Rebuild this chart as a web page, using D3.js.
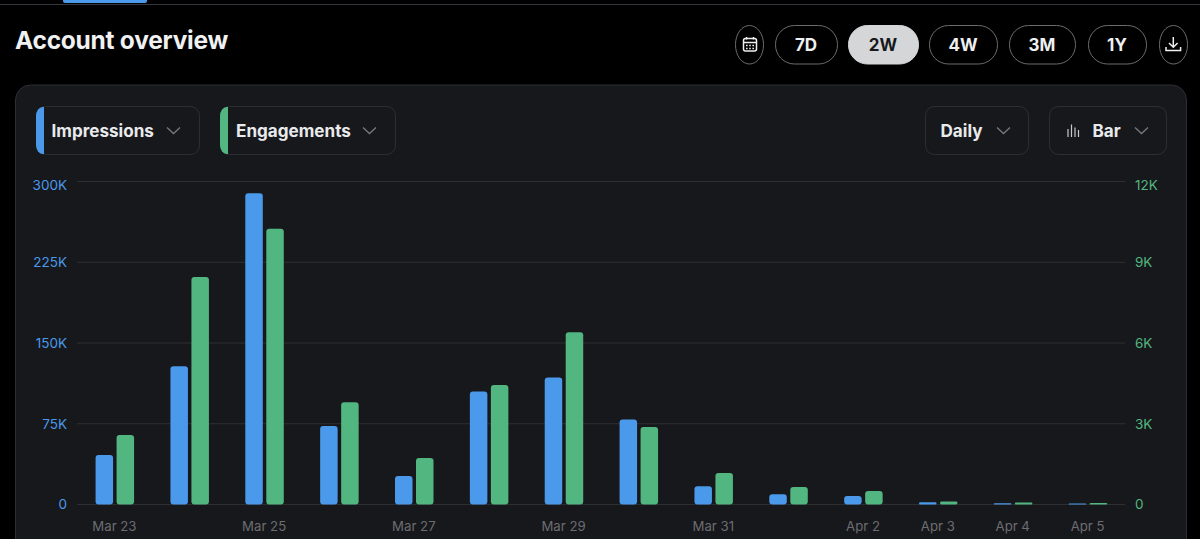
<!DOCTYPE html>
<html><head><meta charset="utf-8">
<script src="https://cdn.jsdelivr.net/npm/d3@7"></script>
<style>
html,body{margin:0;padding:0;background:#000;overflow:hidden}
svg{display:block}
text{font-family:Inter,"Noto Sans",sans-serif}
</style></head><body>
<svg id="c" width="1200" height="539"></svg>
<script>
const days=["Mar 23","Mar 24","Mar 25","Mar 26","Mar 27","Mar 28","Mar 29","Mar 30","Mar 31","Apr 1","Apr 2","Apr 3","Apr 4","Apr 5"];
const shownDays=["Mar 23","Mar 25","Mar 27","Mar 29","Mar 31","Apr 2","Apr 3","Apr 4","Apr 5"];
const impressions=[46000,128500,289000,73000,26500,105000,118000,79000,17000,9500,8000,2000,1200,1000];
const engagements=[2580,8450,10240,3800,1730,4440,6400,2880,1170,650,500,110,70,60];
const impTicks=[0,75000,150000,225000,300000];
const engTicks=[0,3000,6000,9000,12000];
const ranges=["7D","2W","4W","3M","1Y"];
const BLUE="#4a99ea",GREEN="#52b680";

const svg=d3.select("#c");
// top nav strip
svg.append("rect").attr("x",0).attr("y",4).attr("width",1200).attr("height",1).attr("fill","#33363a");
svg.append("rect").attr("x",63).attr("y",-4).attr("width",84).attr("height",7).attr("rx",2).attr("fill",BLUE);
svg.append("text").attr("x",15).attr("y",48.5).attr("fill","#f0f1f2").attr("font-size",24.5).attr("font-weight",700).attr("letter-spacing",-0.25).text("Account overview");

// range buttons
const btnX=[[775,63],[848,71],[929,69],[1009,67],[1088,59]];
function pill(x,w,active){
  return svg.append("rect").attr("x",x+.5).attr("y",25.5).attr("width",w-1).attr("height",38.5).attr("rx",19)
    .attr("fill",active?"#d5d6d8":"#000").attr("stroke",active?"#d5d6d8":"#6a6c70").attr("stroke-width",1);
}
ranges.forEach((r,i)=>{
  const [x,w]=btnX[i],a=r==="2W";
  pill(x,w,a);
  svg.append("text").attr("x",x+w/2-.5).attr("y",51).attr("text-anchor","middle").attr("font-size",17).attr("font-weight",700)
    .attr("fill",a?"#17181c":"#eff0f1").text(r);
});
pill(735,29,false); pill(1159,29,false);
// calendar icon
const cal=svg.append("g").attr("fill","none").attr("stroke","#eff0f1").attr("stroke-width",1.5);
cal.append("rect").attr("x",743.5).attr("y",38.5).attr("width",13).attr("height",12.5).attr("rx",2);
cal.append("path").attr("d","M744 42.5H756M746.5 37V39.5M753.5 37V39.5");
cal.append("path").attr("d","M746 45.5h8M746 48.5h8").attr("stroke-dasharray","1.6 1.6");
// download icon
svg.append("path").attr("fill","none").attr("stroke","#eff0f1").attr("stroke-width",1.5)
  .attr("d","M1173.3 37V47M1169 43l4.3 4.3 4.3-4.3M1166 47v3.6h14.6V47");

// panel
svg.append("rect").attr("x",15.5).attr("y",85).attr("width",1171).attr("height",500).attr("rx",15)
  .attr("fill","#17181c").attr("stroke","#2e2f33");

function dropdown(x,w,label,tx,chev,color){
  svg.append("rect").attr("x",x+.5).attr("y",106.5).attr("width",w-1).attr("height",48).attr("rx",9)
    .attr("fill","none").attr("stroke","#2d2e33");
  if(color){
    svg.append("path").attr("fill",color)
      .attr("d",`M${x+8} 107v47h-1.5a6.5 9 0 0 1-6.5-9v-29a6.5 9 0 0 1 6.5-9z`);
  }
  svg.append("text").attr("x",tx).attr("y",136.5).attr("font-size",17.1).attr("font-weight",700).attr("fill","#e9eaec").text(label);
  svg.append("path").attr("fill","none").attr("stroke","#77797d").attr("stroke-width",1.3)
    .attr("d",`M${chev-6.5} 127.5l6.5 6 6.5-6`);
}
dropdown(36,164,"Impressions",51.5,173.5,BLUE);
dropdown(220,176,"Engagements",236,369.5,GREEN);
dropdown(925,104,"Daily",940.5,1003.5,null);
dropdown(1049,118,"Bar",1092.5,1141.5,null);
svg.append("path").attr("stroke","#c8c9cc").attr("stroke-width",1.2).attr("fill","none")
  .attr("d","M1068 129V137M1071.5 124.5V137M1075 127.5V137M1078.5 130V137");

// scales
const plotTop=181.5,base=504.5,L=77,R=1125;
const x=d3.scaleBand().domain(days).range([L,R]);
const yI=d3.scaleLinear().domain([0,300000]).range([base,plotTop]);
const yE=d3.scaleLinear().domain([0,12000]).range([base,plotTop]);
const fmt=v=>v===0?"0":(v/1000)+"K";

// grid
svg.append("g").selectAll("line").data(impTicks).join("line")
  .attr("x1",L).attr("x2",R).attr("y1",d=>yI(d)).attr("y2",d=>yI(d))
  .attr("stroke","#2e2f33").attr("stroke-width",1);

function styleAxis(g,color,size){
  g.select(".domain").remove();
  g.selectAll(".tick line").remove();
  g.selectAll(".tick text").attr("fill",color).attr("font-size",size).attr("font-family","Inter,'Noto Sans',sans-serif");
}
// the top label of each value axis sits just under its gridline; the others are centred on theirs
const nudgeTop=(g,maxV)=>g.selectAll(".tick text").attr("dy",d=>d===maxV?"0.6em":"0.32em");
svg.append("g").attr("transform",`translate(${L},0)`)
  .call(d3.axisLeft(yI).tickValues(impTicks).tickFormat(fmt).tickSize(0).tickPadding(10))
  .call(g=>styleAxis(g,BLUE,13.5)).call(g=>nudgeTop(g,300000));
svg.append("g").attr("transform",`translate(${R},0)`)
  .call(d3.axisRight(yE).tickValues(engTicks).tickFormat(fmt).tickSize(0).tickPadding(10))
  .call(g=>styleAxis(g,GREEN,13.5)).call(g=>nudgeTop(g,12000));
svg.append("g").attr("transform",`translate(0,${base+9})`)
  .call(d3.axisBottom(x).tickValues(shownDays).tickSize(0).tickPadding(8))
  .call(g=>styleAxis(g,"#6c6d71",13.2));

// bars
const bw=17.5,gap=3.5;
const bar=(data,y,color,off)=>svg.append("g").selectAll("rect").data(data).join("rect")
  .attr("x",(d,i)=>x(days[i])+x.bandwidth()/2+off)
  .attr("width",bw)
  .attr("y",d=>y(d))
  .attr("height",d=>base-y(d))
  .attr("rx",d=>Math.min(3,(base-y(d))/2))
  .attr("fill",color);
bar(impressions,yI,BLUE,-bw-gap/2+.4);
bar(engagements,yE,GREEN,gap/2+.4);
</script>
</body></html>
